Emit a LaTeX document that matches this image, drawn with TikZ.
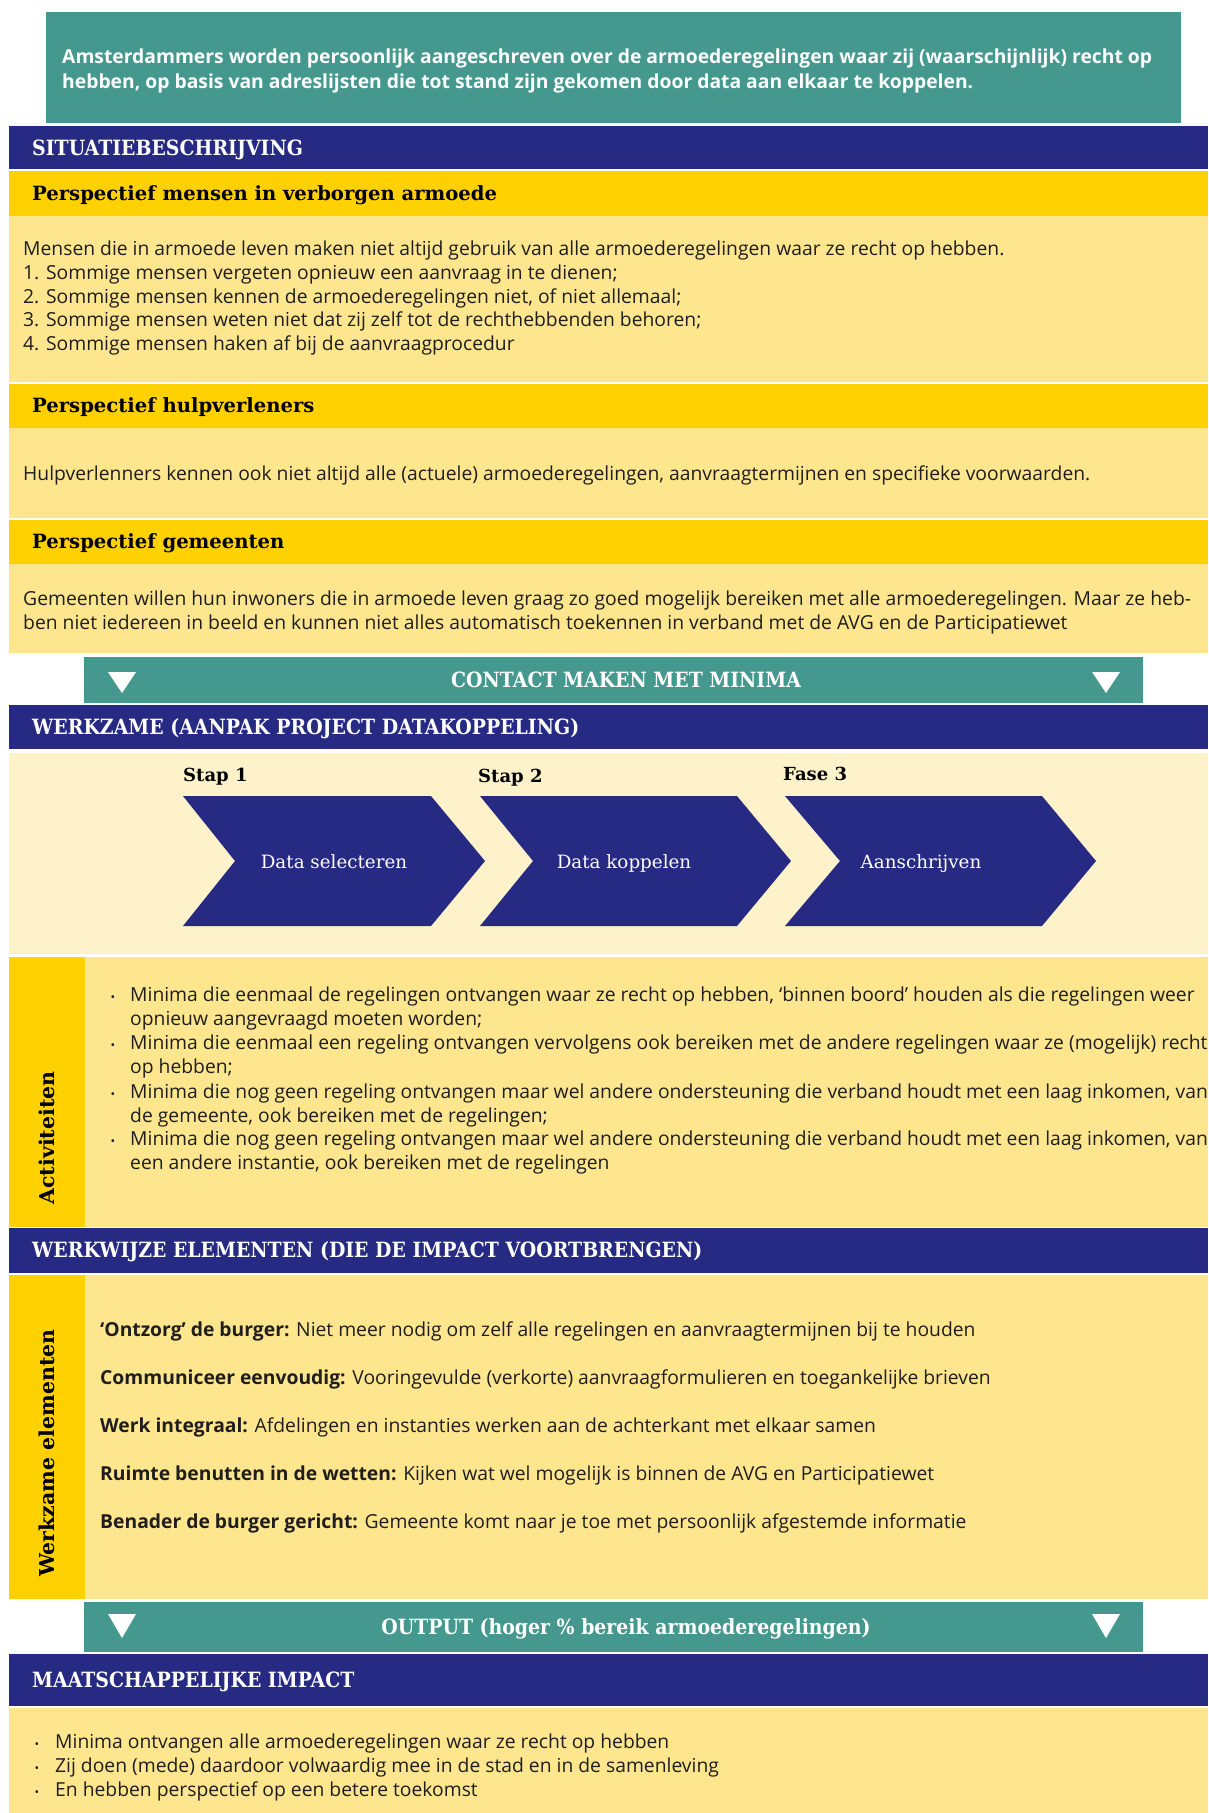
\documentclass[tikz,border=0pt]{standalone}
\usepackage{fontspec}
\setmainfont{Open Sans}
\newfontfamily\slab{DejaVu Serif}
\newfontfamily\slabn{DejaVu Serif}[FakeStretch=0.9]
\definecolor{teal}{RGB}{68,152,142}
\definecolor{navy}{RGB}{38,42,130}
\definecolor{gold}{RGB}{255,209,0}
\definecolor{lyel}{RGB}{254,230,143}
\definecolor{cream}{RGB}{254,242,203}
\definecolor{txt}{RGB}{30,30,30}
\begin{document}
\begin{tikzpicture}[x=1pt,y=-1pt,
  body/.style={anchor=base west,inner sep=0,font=\fontsize{19.3}{24}\selectfont,text=txt},
  toptext/.style={anchor=base west,inner sep=0,font=\bfseries\fontsize{19.3}{24}\selectfont,text=white},
  navyhead/.style={anchor=base west,inner sep=0,font=\slabn\bfseries\fontsize{21}{24}\selectfont,text=white},
  goldhead/.style={anchor=base west,inner sep=0,font=\slab\bfseries\fontsize{19.6}{22}\selectfont,text=black},
  tealhead/.style={anchor=base,inner sep=0,font=\slabn\bfseries\fontsize{21}{24}\selectfont,text=white},
  staplabel/.style={anchor=base west,inner sep=0,font=\slab\bfseries\fontsize{18}{22}\selectfont,text=black},
  chevtext/.style={anchor=base,inner sep=0,font=\slab\fontsize{18.3}{22}\selectfont,text=white},
  bul/.style={anchor=base,inner sep=0,font=\fontsize{12}{12}\selectfont,text=txt},
  sidelabel/.style={rotate=90,anchor=center,inner sep=0,font=\slab\bfseries\fontsize{20.5}{21}\selectfont,text=black},
  chev/.style={fill=navy},
  tri/.style={fill=white}]
\useasboundingbox (0,0) rectangle (1208,1813);
\fill[white] (0,0) rectangle (1208,1813);
% bands
\fill[teal] (46,12) rectangle (1181,123);
\fill[navy] (9,126) rectangle (1208,169);
\fill[gold] (9,171) rectangle (1208,216);
\fill[lyel] (9,216) rectangle (1208,382);
\fill[gold] (9,384) rectangle (1208,428);
\fill[lyel] (9,428) rectangle (1208,518);
\fill[gold] (9,520) rectangle (1208,564);
\fill[lyel] (9,564) rectangle (1208,653);
\fill[teal] (84,657) rectangle (1143,703);
\fill[navy] (9,705) rectangle (1208,749);
\fill[cream] (9,753) rectangle (1208,954);
\fill[lyel] (9,957) rectangle (1208,1227);
\fill[gold] (9,957) rectangle (85,1227);
\fill[navy] (9,1228) rectangle (1208,1273);
\fill[lyel] (9,1275) rectangle (1208,1599);
\fill[gold] (9,1275) rectangle (85,1599);
\fill[teal] (84,1602) rectangle (1143,1652);
\fill[navy] (9,1654) rectangle (1208,1706);
\fill[lyel] (9,1708) rectangle (1208,1813);
% triangles
\fill[tri] (108,672) -- (136,672) -- (122,693) -- cycle;
\fill[tri] (1092,672) -- (1120,672) -- (1106,693) -- cycle;
\fill[tri] (108,1614) -- (136,1614) -- (122,1638) -- cycle;
\fill[tri] (1092,1614) -- (1120,1614) -- (1106,1638) -- cycle;
% top text
\node[toptext] (t1) at (62,63) {Amsterdammers worden persoonlijk aangeschreven over de armoederegelingen waar zij (waarschijnlijk) recht op};
\node[toptext] (t2) at (62,88) {hebben, op basis van adreslijsten die tot stand zijn gekomen door data aan elkaar te koppelen.};
% situatie
\node[navyhead] (h1) at (32,155) {SITUATIEBESCHRIJVING};
\node[goldhead] (g1) at (32,200) {Perspectief mensen in verborgen armoede};
\node[body] (s1) at (23,255) {Mensen die in armoede leven maken niet altijd gebruik van alle armoederegelingen waar ze recht op hebben.};
\node[body] (s2) at (23,279) {1. Sommige mensen vergeten opnieuw een aanvraag in te dienen;};
\node[body] (s3) at (23,303) {2. Sommige mensen kennen de armoederegelingen niet, of niet allemaal;};
\node[body] (s4) at (23,326) {3. Sommige mensen weten niet dat zij zelf tot de rechthebbenden behoren;};
\node[body] (s5) at (23,350) {4. Sommige mensen haken af bij de aanvraagprocedur};
\node[goldhead] (g2) at (32,412) {Perspectief hulpverleners};
\node[body] (hv) at (23,480) {Hulpverlenners kennen ook niet altijd alle (actuele) armoederegelingen, aanvraagtermijnen en specifieke voorwaarden.};
\node[goldhead] (g3) at (32,548) {Perspectief gemeenten};
\node[body] (gm1) at (23,605) {Gemeenten willen hun inwoners die in armoede leven graag zo goed mogelijk bereiken met alle armoederegelingen. Maar ze heb-};
\node[body] (gm2) at (23,629) {ben niet iedereen in beeld en kunnen niet alles automatisch toekennen in verband met de AVG en de Participatiewet};
\node[tealhead] (c1) at (626,687) {CONTACT MAKEN MET MINIMA};
% werkzame aanpak
\node[navyhead] (h2) at (32,734) {WERKZAME (AANPAK PROJECT DATAKOPPELING)};
\node[staplabel] (st1) at (183,781) {Stap 1};
\node[staplabel] (st2) at (478,782) {Stap 2};
\node[staplabel] (st3) at (783,780) {Fase 3};
\fill[chev] (183,796) -- (431,796) -- (485,861) -- (431,926) -- (183,926) -- (235,861) -- cycle;
\fill[chev] (480,796) -- (737,796) -- (791,861) -- (737,926) -- (480,926) -- (533,861) -- cycle;
\fill[chev] (785,796) -- (1042,796) -- (1096,861) -- (1042,926) -- (785,926) -- (840,861) -- cycle;
\node[chevtext] (ch1) at (334,868) {Data selecteren};
\node[chevtext] (ch2) at (624,868) {Data koppelen};
\node[chevtext] (ch3) at (921,868) {Aanschrijven};
% activiteiten
\node[sidelabel] (sl1) at (47,1138) {Activiteiten};
\foreach \y in {1001,1049,1098,1145} \node[bul] (b\y) at (113,\y) {•};
\node[body] (a1) at (130,1001) {Minima die eenmaal de regelingen ontvangen waar ze recht op hebben, ‘binnen boord’ houden als die regelingen weer};
\node[body] (a2) at (130,1025) {opnieuw aangevraagd moeten worden;};
\node[body] (a3) at (130,1049) {Minima die eenmaal een regeling ontvangen vervolgens ook bereiken met de andere regelingen waar ze (mogelijk) recht};
\node[body] (a4) at (130,1073) {op hebben;};
\node[body] (a5) at (130,1098) {Minima die nog geen regeling ontvangen maar wel andere ondersteuning die verband houdt met een laag inkomen, van};
\node[body] (a6) at (130,1122) {de gemeente, ook bereiken met de regelingen;};
\node[body] (a7) at (130,1145) {Minima die nog geen regeling ontvangen maar wel andere ondersteuning die verband houdt met een laag inkomen, van};
\node[body] (a8) at (130,1169) {een andere instantie, ook bereiken met de regelingen};
% werkwijze
\node[navyhead] (h3) at (32,1257) {WERKWIJZE ELEMENTEN (DIE DE IMPACT VOORTBRENGEN)};
\node[sidelabel] (sl2) at (47,1453) {Werkzame elementen};
\node[body] (w1) at (100,1336) {\textbf{‘Ontzorg’ de burger:} Niet meer nodig om zelf alle regelingen en aanvraagtermijnen bij te houden};
\node[body] (w2) at (100,1384) {\textbf{Communiceer eenvoudig:} Vooringevulde (verkorte) aanvraagformulieren en toegankelijke brieven};
\node[body] (w3) at (100,1432) {\textbf{Werk integraal:} Afdelingen en instanties werken aan de achterkant met elkaar samen};
\node[body] (w4) at (100,1480) {\textbf{Ruimte benutten in de wetten:} Kijken wat wel mogelijk is binnen de AVG en Participatiewet};
\node[body] (w5) at (100,1528) {\textbf{Benader de burger gericht:} Gemeente komt naar je toe met persoonlijk afgestemde informatie};
\node[tealhead] (c2) at (626,1634) {OUTPUT (hoger \% bereik armoederegelingen)};
% impact
\node[navyhead] (h4) at (32,1687) {MAATSCHAPPELIJKE IMPACT};
\foreach \y in {1748,1772,1796} \node[bul] (m\y) at (37,\y) {•};
\node[body] (i1) at (55,1748) {Minima ontvangen alle armoederegelingen waar ze recht op hebben};
\node[body] (i2) at (55,1772) {Zij doen (mede) daardoor volwaardig mee in de stad en in de samenleving};
\node[body] (i3) at (55,1796) {En hebben perspectief op een betere toekomst};
\end{tikzpicture}
\end{document}
